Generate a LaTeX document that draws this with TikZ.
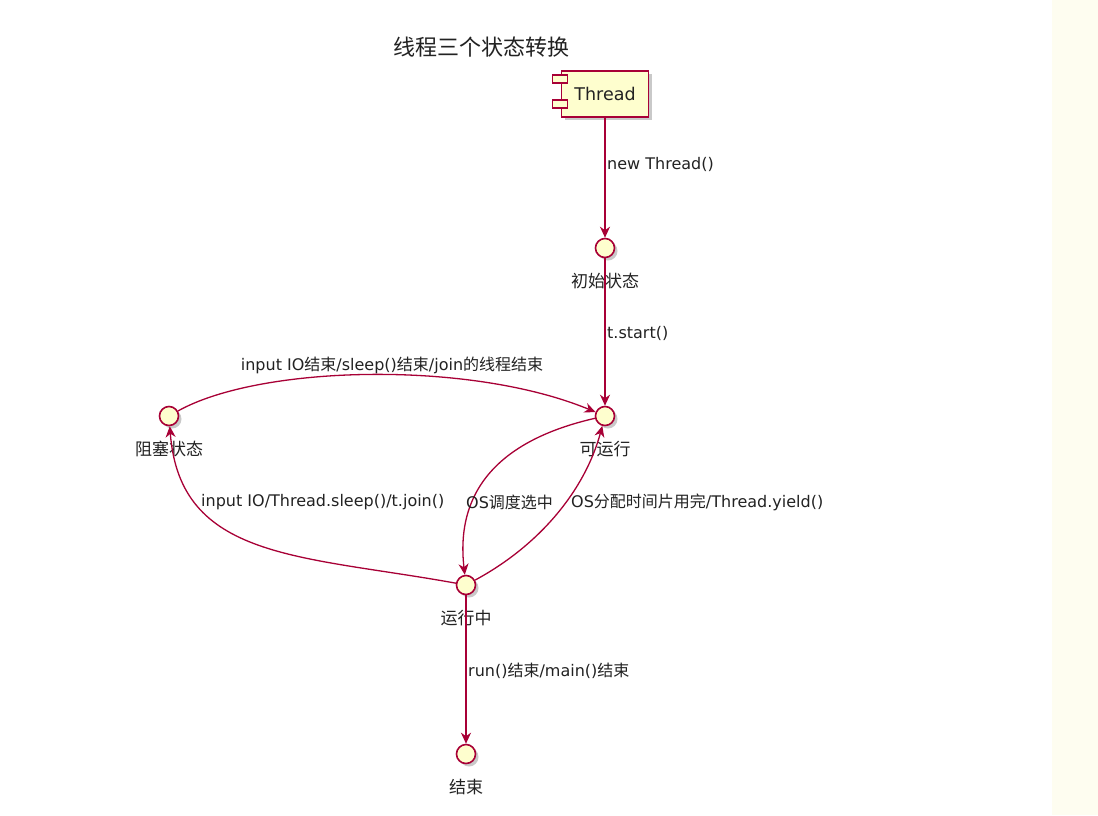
\documentclass[tikz,border=0pt]{standalone}
\usepackage{fontspec}
\setmainfont{DejaVu Sans}
\newfontfamily\zhfont{Noto Sans CJK SC}
\newcommand\zh[1]{{\zhfont #1}}
\usetikzlibrary{arrows.meta,shadows}
\definecolor{umlred}{HTML}{A80036}
\definecolor{umlfill}{HTML}{FEFECE}
\definecolor{sidebar}{HTML}{FEFDF0}
\definecolor{txt}{HTML}{222222}

\begin{document}
\begin{tikzpicture}[x=1pt,y=-1pt,
  shade/.style={drop shadow={shadow xshift=3pt,shadow yshift=-3pt,opacity=0.35,fill=black!60}},
  state/.style={circle,draw=umlred,line width=1.6pt,fill=umlfill,minimum size=19pt,inner sep=0pt,shade},
  port/.style={draw=umlred,line width=1.4pt,fill=umlfill,minimum width=15pt,minimum height=8pt,inner sep=0pt},
  statelabel/.style={font=\fontsize{17}{19}\selectfont,text=txt},
  edgelabel/.style={font=\fontsize{16}{18}\selectfont,text=txt,anchor=west,inner sep=0pt},
  flow/.style={draw=umlred,line width=1.3pt,-{Stealth[length=11pt,width=10pt,inset=3.5pt]}},
]
% canvas and side strip
\fill[white] (0,0) rectangle (1098,815);
\fill[sidebar] (1052,0) rectangle (1098,815);
\useasboundingbox (0,0) rectangle (1098,815);

% title
\node[font=\fontsize{22}{26}\selectfont,text=txt] (title) at (481,47) {\zh{线程三个状态转换}};

% Thread component
\node[draw=umlred,line width=1.6pt,fill=umlfill,minimum width=87pt,minimum height=46pt,
      inner sep=0pt,shade,font=\fontsize{17.5}{20}\selectfont,text=txt] (thread) at (605,94) {Thread};
\node[port] (thread-p1) at (560,79) {};
\node[port] (thread-p2) at (560,104) {};

% states
\node[state] (init) at (605,248) {};
\node[statelabel] (init-l) at (605,281) {\zh{初始状态}};
\node[state] (runnable) at (605,416) {};
\node[statelabel] (runnable-l) at (605,449) {\zh{可运行}};
\node[state] (blocked) at (169,416) {};
\node[statelabel] (blocked-l) at (169,449) {\zh{阻塞状态}};
\node[state] (running) at (466,585) {};
\node[statelabel] (running-l) at (466,618) {\zh{运行中}};
\node[state] (ended) at (466,754) {};
\node[statelabel] (ended-l) at (466,787) {\zh{结束}};

% transitions
\draw[flow] (thread) -- (init);
\draw[flow] (init) -- (runnable);
\draw[flow] (blocked) .. controls (260,365) and (470,360) .. (runnable);
\draw[flow] (runnable) .. controls (500,440) and (455,490) .. (running);
\draw[flow] (running) .. controls (540,545) and (585,490) .. (runnable);
\draw[flow] (running) .. controls (300,555) and (180,560) .. (blocked);
\draw[flow] (running) -- (ended);

% transition labels
\node[edgelabel] (l-new) at (607,164) {new Thread()};
\node[edgelabel] (l-start) at (607,333) {t.start()};
\node[edgelabel,anchor=center] (l-wake) at (392,365) {input IO\zh{结束}/sleep()\zh{结束}/join\zh{的线程结束}};
\node[edgelabel] (l-block) at (201,502) {input IO/Thread.sleep()/t.join()};
\node[edgelabel] (l-sched) at (466,502) {OS\zh{调度选中}};
\node[edgelabel] (l-yield) at (571,502) {OS\zh{分配时间片用完}/Thread.yield()};
\node[edgelabel] (l-end) at (468,671) {run()\zh{结束}/main()\zh{结束}};
\end{tikzpicture}
\end{document}
